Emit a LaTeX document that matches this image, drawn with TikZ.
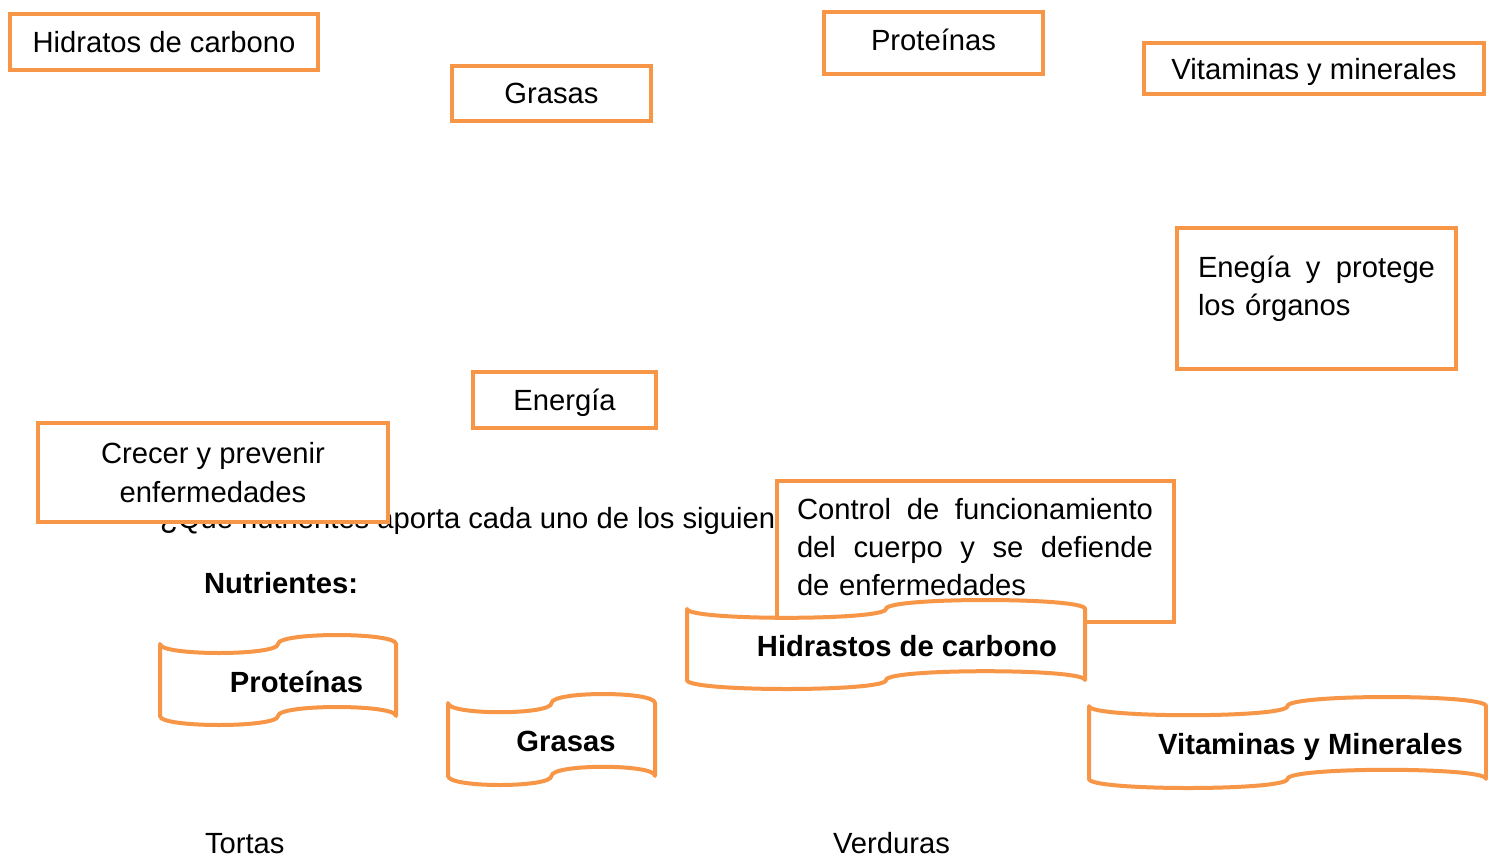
\documentclass[tikz,border=0pt]{standalone}
\usepackage{fontspec}
\setmainfont{Liberation Sans}
\usepackage{tikz}
\usetikzlibrary{calc}

\definecolor{boxorange}{HTML}{F79646}
\newcommand{\basefont}{\fontsize{14.6pt}{19.2pt}\selectfont}

% punched tape outline round an (empty) node
\newcommand{\tapeoutline}[1]{%
  \draw[tapeline] ($(#1.north west)!.1!(#1.south west)$)
    .. controls ($(#1.north west)!.2333!(#1.south west)$) and ($(#1.north)!.2333!(#1.south)$) .. ($(#1.north)!.1!(#1.south)$)
    .. controls ($(#1.north)!-.0333!(#1.south)$) and ($(#1.north east)!-.0333!(#1.south east)$) .. ($(#1.north east)!.1!(#1.south east)$)
    -- ($(#1.north east)!.9!(#1.south east)$)
    .. controls ($(#1.north east)!.7667!(#1.south east)$) and ($(#1.north)!.7667!(#1.south)$) .. ($(#1.north)!.9!(#1.south)$)
    .. controls ($(#1.north)!1.0333!(#1.south)$) and ($(#1.north west)!1.0333!(#1.south west)$) .. ($(#1.north west)!.9!(#1.south west)$)
    -- cycle;}

\begin{document}
\begin{tikzpicture}[x=0.5pt,y=-0.5pt,font=\basefont]
    \tikzset{
      rectbox/.style={rectangle,draw=boxorange,line width=2pt,fill=white,inner sep=0pt,outer sep=0pt},
      tapenode/.style={rectangle,inner sep=0pt,outer sep=0pt},
      tapeline/.style={draw=boxorange,line width=2pt,fill=white,line join=round},
      plaintext/.style={inner sep=0pt,outer sep=0pt},
      tapetext/.style={plaintext,anchor=base,font=\basefont\bfseries}
    }
    \useasboundingbox (0,0) rectangle (1488,857);

    % page text (partly hidden by the boxes)
    \node[plaintext,anchor=base west](question) at (160,528){¿Qué nutrientes aporta cada uno de los siguien};
    \node[plaintext,anchor=base west,font=\basefont\bfseries](nutrientes) at (204,593){Nutrientes:};
    \node[plaintext,anchor=base west](tortas) at (205,853){Tortas};
    \node[plaintext,anchor=base west](verduras) at (833,853){Verduras};

    % answer boxes
    \node[rectbox,minimum width=154pt,minimum height=28pt](hidratos) at (164,42){Hidratos de carbono};
    \node[rectbox,minimum width=99.5pt,minimum height=27.5pt](grasas) at (551.5,93.5){Grasas};
    \node[rectbox,minimum width=109.5pt,minimum height=31pt,text depth=3pt](proteinas) at (933.5,43){Proteínas};
    \node[rectbox,minimum width=170pt,minimum height=25.5pt,text depth=0pt](vitaminas) at (1314,68.5){Vitaminas y minerales};
    \node[rectbox,minimum width=139.5pt,minimum height=70.5pt](enegiabox) at (1316.5,298.5){};
    \node[plaintext,anchor=north west,text width=118.5pt,align=left](enegia) at (1198,256){Enegía\hfill y\hfill protege\\los órganos};
    \node[rectbox,minimum width=91.5pt,minimum height=28pt,text depth=0pt](energia) at (564.5,400){Energía};
    \node[rectbox,minimum width=175pt,minimum height=49.5pt,align=center](crecer) at (213,472.5){Crecer y prevenir\\enfermedades};
    \node[rectbox,minimum width=198.5pt,minimum height=70.5pt](controlbox) at (975.5,551.5){};
    \node[plaintext,anchor=north west,text width=178pt,align=left](control) at (797,498){Control\hfill de\hfill funcionamiento\\del\hfill cuerpo\hfill y\hfill se\hfill defiende\\de enfermedades};

    % nutrient tapes
    \node[tapenode,minimum width=118pt,minimum height=45pt](protape) at (278,680){};
    \tapeoutline{protape}
    \node[tapetext](protext) at (296.5,692.5){Proteínas};

    \node[tapenode,minimum width=103.5pt,minimum height=45.5pt](grastape) at (551.5,739.5){};
    \tapeoutline{grastape}
    \node[tapetext](grastext) at (566,751.5){Grasas};

    \node[tapenode,minimum width=199pt,minimum height=44.5pt](hidrtape) at (886,644.5){};
    \tapeoutline{hidrtape}
    \node[tapetext](hidrtext) at (907,656.5){Hidrastos de carbono};

    \node[tapenode,minimum width=198.5pt,minimum height=45.5pt](vittape) at (1287.5,742.5){};
    \tapeoutline{vittape}
    \node[tapetext](vittext) at (1310.5,754.5){Vitaminas y Minerales};

\end{tikzpicture}
\end{document}
